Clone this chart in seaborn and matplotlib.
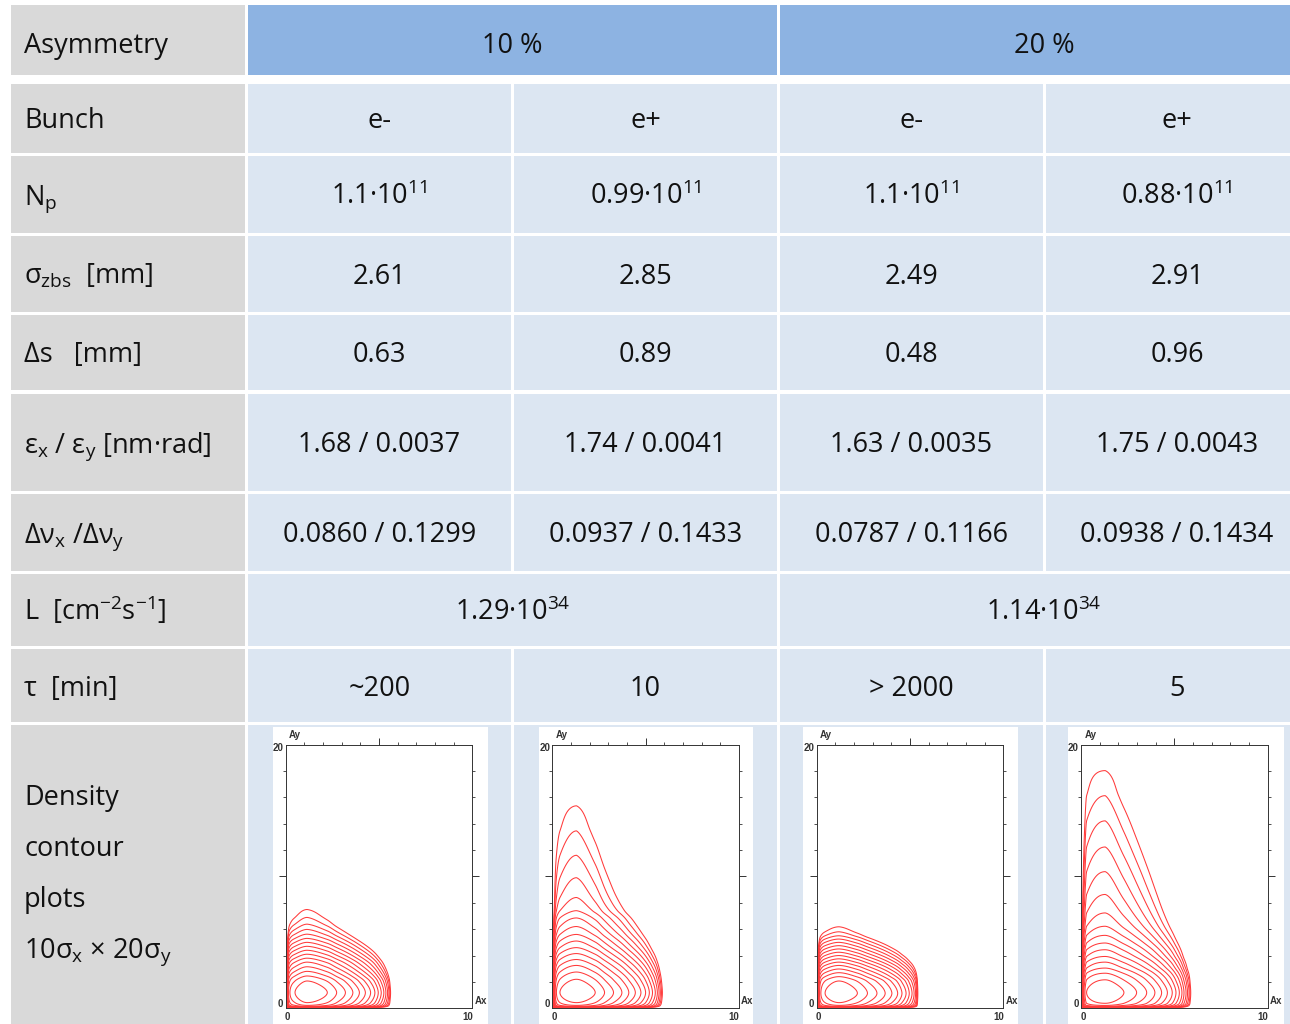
import numpy as np
import matplotlib
matplotlib.use("Agg")
import matplotlib.pyplot as plt
from matplotlib.patches import Rectangle
import seaborn as sns

# ---------------------------------------------------------------- table data
asymmetry = ["10 %", "20 %"]
bunches = ["e-", "e+", "e-", "e+"]
np_mantissa = ["1.1", "0.99", "1.1", "0.88"]
np_exponent = [11, 11, 11, 11]
sigma_zbs = [2.61, 2.85, 2.49, 2.91]
delta_s = [0.63, 0.89, 0.48, 0.96]
emit_x = [1.68, 1.74, 1.63, 1.75]
emit_y = [0.0037, 0.0041, 0.0035, 0.0043]
tune_x = [0.0860, 0.0937, 0.0787, 0.0938]
tune_y = [0.1299, 0.1433, 0.1166, 0.1434]
lumi_mantissa = [1.29, 1.14]
lumi_exponent = [34, 34]
lifetime = ["~200", "10", "> 2000", "5"]

row_labels = [
    "Asymmetry",
    "Bunch",
    "N$_p$",
    "σ$_{zbs}$  [mm]",
    "Δs   [mm]",
    "ε$_x$ / ε$_y$ [nm·rad]",
    "Δν$_x$ /Δν$_y$",
    "L  [cm$^{-2}$s$^{-1}$]",
    "τ  [min]",
]
density_label = ["Density", "contour", "plots", "10σ$_x$ × 20σ$_y$"]

# ------------------------------------------- density contour data (Ax, Ay)
# Per bunch: outer reach of each density level along Ax (right edge) and
# along Ay (top), innermost level's left / bottom edge, core position and
# how strongly the Ax spread narrows as Ay grows.
contour_right = [
    [2.23, 2.73, 3.20, 3.60, 3.95, 4.27, 4.55, 4.78, 4.96, 5.12, 5.26, 5.37, 5.46, 5.53, 5.58, 5.62],
    [2.30, 2.80, 3.28, 3.73, 4.10, 4.45, 4.75, 5.00, 5.20, 5.37, 5.52, 5.63, 5.72, 5.79, 5.85, 5.90],
    [2.18, 2.72, 3.23, 3.67, 4.03, 4.34, 4.57, 4.79, 4.96, 5.11, 5.22, 5.30, 5.35, 5.38, 5.40, 5.42],
    [2.30, 2.98, 3.52, 3.96, 4.32, 4.63, 4.89, 5.09, 5.27, 5.41, 5.52, 5.63, 5.71, 5.79, 5.84, 5.88],
]
contour_top = [
    [2.07, 2.45, 2.80, 3.15, 3.50, 3.80, 4.10, 4.40, 4.70, 5.00, 5.30, 5.62, 5.98, 6.38, 6.89, 7.49],
    [2.20, 2.75, 3.25, 3.70, 4.15, 4.60, 5.10, 5.60, 6.20, 6.85, 7.40, 8.40, 9.90, 11.60, 13.45, 15.35],
    [2.07, 2.40, 2.70, 2.98, 3.25, 3.50, 3.75, 4.00, 4.25, 4.50, 4.75, 5.00, 5.25, 5.50, 5.80, 6.18],
    [2.16, 2.66, 3.05, 3.50, 3.93, 4.44, 4.95, 5.53, 6.22, 7.23, 8.63, 10.36, 12.23, 14.21, 16.12, 18.02],
]
inner_left = [0.50, 0.41, 0.45, 0.30]
inner_bottom = [0.43, 0.43, 0.43, 0.38]
core_ax = [1.15, 1.30, 1.20, 1.30]
core_ay = [1.20, 1.20, 1.15, 1.20]
coupling = [0.06, 0.04, 0.07, 0.035]

# ---------------------------------------------------------------- styling
sns.set_theme(style="white")
plt.rcParams["font.family"] = ["Open Sans", "DejaVu Sans"]
plt.rcParams["mathtext.default"] = "regular"

W, H = 1290, 1024
TXT = "#111111"
GREY = "#d9d9d9"
HEAD = "#8db3e2"
CELL = "#dce6f2"
FS = 19.5

col_edges = [(11, 245), (248, 511), (514, 777), (780, 1043), (1046, 1308)]
row_edges = [(5, 75), (84, 153), (156, 233), (236, 312), (315, 390),
             (394, 491), (494, 571), (574, 646), (649, 722), (725, 1030)]

fig = plt.figure(figsize=(W / 100, H / 100), dpi=100)
tab = fig.add_axes([0, 0, 1, 1])
tab.set_xlim(0, W)
tab.set_ylim(H, 0)
tab.axis("off")
sns.despine(ax=tab, left=True, bottom=True)


def cell(c0, c1, r, color):
    x0 = col_edges[c0][0]
    x1 = col_edges[c1][1]
    y0, y1 = row_edges[r]
    tab.add_patch(Rectangle((x0, y0), x1 - x0, y1 - y0, facecolor=color,
                            edgecolor="none", zorder=1))
    return (x0 + x1) / 2, (y0 + y1) / 2


def put(x, y, s, ha="center"):
    tab.text(x, y, s, ha=ha, va="baseline", fontsize=FS, color=TXT, zorder=3)


# label column
for r, lab in enumerate(row_labels):
    _, cy = cell(0, 0, r, GREY)
    put(24, cy + (13 if r == 0 else 10), lab, ha="left")
cell(0, 0, 9, GREY)
for i, lab in enumerate(density_label):
    put(24, 805 + i * 51, lab, ha="left")

# header row
for k, lab in enumerate(asymmetry):
    cx, cy = cell(1 + 2 * k, 2 + 2 * k, 0, HEAD)
    put(cx, cy + 13, lab)

# per-bunch rows
per_bunch = [
    bunches,
    [f"{m}·10$^{{{e}}}$" for m, e in zip(np_mantissa, np_exponent)],
    [f"{v:.2f}" for v in sigma_zbs],
    [f"{v:.2f}" for v in delta_s],
    [f"{a:.2f} / {b:.4f}" for a, b in zip(emit_x, emit_y)],
    [f"{a:.4f} / {b:.4f}" for a, b in zip(tune_x, tune_y)],
]
for r, vals in enumerate(per_bunch, start=1):
    for c, v in enumerate(vals):
        cx, cy = cell(c + 1, c + 1, r, CELL)
        put(cx, cy + 10, v)

# luminosity row (merged per asymmetry)
for k, (m, e) in enumerate(zip(lumi_mantissa, lumi_exponent)):
    cx, cy = cell(1 + 2 * k, 2 + 2 * k, 7, CELL)
    put(cx, cy + 10, f"{m:.2f}·10$^{{{e}}}$")

# lifetime row
for c, v in enumerate(lifetime):
    cx, cy = cell(c + 1, c + 1, 8, CELL)
    put(cx, cy + 10, v)

# density plot row backgrounds
for c in range(4):
    cell(c + 1, c + 1, 9, CELL)
white_boxes = [(273, 488), (539, 753), (803, 1018), (1068, 1284)]
for x0, x1 in white_boxes:
    tab.add_patch(Rectangle((x0, 727), x1 - x0, 300, facecolor="white",
                            edgecolor="none", zorder=2))


# ------------------------------------------------------ contour panels
def pchip(xk, yk, xq):
    xk = np.asarray(xk, float)
    yk = np.asarray(yk, float)
    h = np.diff(xk)
    d = np.diff(yk) / h
    m = np.zeros_like(yk)
    m[0], m[-1] = d[0], d[-1]
    for i in range(1, len(xk) - 1):
        if d[i - 1] * d[i] > 0:
            w1 = 2 * h[i] + h[i - 1]
            w2 = h[i] + 2 * h[i - 1]
            m[i] = (w1 + w2) / (w1 / d[i - 1] + w2 / d[i])
    i = np.clip(np.searchsorted(xk, xq) - 1, 0, len(xk) - 2)
    t = (xq - xk[i]) / h[i]
    h00 = 2 * t**3 - 3 * t**2 + 1
    h10 = t**3 - 2 * t**2 + t
    h01 = -2 * t**3 + 3 * t**2
    h11 = t**3 - t**2
    return h00 * yk[i] + h10 * h[i] * m[i] + h01 * yk[i + 1] + h11 * h[i] * m[i + 1]


def log_profile(q, inner, core, reach, q_end):
    n = len(reach)
    knots = [0.0, 0.02, 0.08, 0.2, inner, core] + list(reach) + [q_end]
    vals = [-60, -16, -6, -2.2, -1, 0] + [-(k + 1) for k in range(n)] + [-60]
    return pchip(knots, vals, q)


panel_x0 = [285.7, 552.3, 816.7, 1081.0]
panel_w = 186.6
panel_ybot, panel_ytop = 1008.3, 744.5

gx = np.linspace(0, 10, 501)
gy = np.linspace(0, 20, 1001)
tick_font = dict(family="Liberation Sans", size=7, weight="bold")
INK = "#333333"

for p in range(4):
    ax = fig.add_axes([panel_x0[p] / W, 1 - panel_ybot / H,
                       panel_w / W, (panel_ybot - panel_ytop) / H])
    ax.set_facecolor("white")
    fx = log_profile(gx, inner_left[p], core_ax[p], contour_right[p], 10.5)
    fy = log_profile(gy, inner_bottom[p], core_ay[p], contour_top[p], 21.0)
    dx = np.clip(gx - core_ax[p], 0, None)
    dy = np.clip(gy - core_ay[p], 0, None)
    field = fy[:, None] + fx[None, :] - coupling[p] * dy[:, None] * dx[None, :]
    n = len(contour_right[p])
    levels = -np.arange(n, 0, -1).astype(float)
    ax.contour(gx, gy, field, levels=levels, colors="#ff3a3a",
               linewidths=0.75, linestyles="solid")
    ax.set_xlim(0, 10)
    ax.set_ylim(0, 20)
    for s in ax.spines.values():
        s.set_color(INK)
        s.set_linewidth(0.7)
        s.set_visible(True)
    ax.set_xticks([5])
    ax.set_xticks(np.arange(1, 10), minor=True)
    ax.set_yticks([10])
    ax.set_yticks(np.arange(2, 20, 2), minor=True)
    ax.tick_params(axis="x", which="both", direction="out", top=True,
                   bottom=False, labelbottom=False, colors=INK)
    ax.tick_params(axis="y", which="both", direction="out", left=True,
                   right=True, labelleft=False, colors=INK)
    ax.tick_params(which="major", length=5, width=0.7)
    ax.tick_params(which="minor", length=2.4, width=0.6)
    # corner labels of the amplitude frame
    for tx, ty, s, ha in [(-0.012, 0.985, "20", "right"),
                          (-0.012, 0.016, "0", "right"),
                          (0.01, -0.032, "0", "center"),
                          (0.975, -0.032, "10", "center"),
                          (0.05, 1.035, "Ay", "center"),
                          (1.045, 0.028, "Ax", "center")]:
        ax.text(tx, ty, s, transform=ax.transAxes, ha=ha, va="center",
                fontdict=tick_font, color=INK, clip_on=False)

fig.savefig("out.png", dpi=100)
